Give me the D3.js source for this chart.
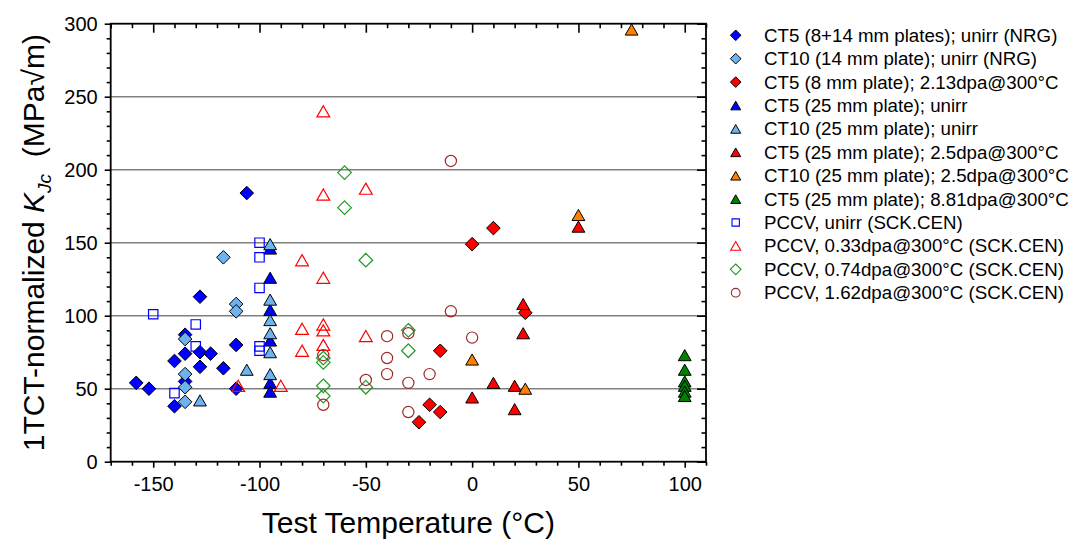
<!DOCTYPE html>
<html>
<head>
<meta charset="utf-8">
<script src="https://cdn.jsdelivr.net/npm/d3@7"></script>
<style>
    body { margin: 0; background: #fff; }
    svg { display: block; font-family: "Liberation Sans", Arial, sans-serif; }
</style>
</head>
<body>
<div id="chart"></div>
<script>
// series (temperature in °C, 1TCT-normalized KJc in MPa√m)
const seriesNames = [
    "CT5 (8+14 mm plates); unirr (NRG)",
    "CT10 (14 mm plate); unirr (NRG)",
    "CT5 (8 mm plate); 2.13dpa@300°C",
    "CT5 (25 mm plate); unirr",
    "CT10 (25 mm plate); unirr",
    "CT5 (25 mm plate); 2.5dpa@300°C",
    "CT10 (25 mm plate); 2.5dpa@300°C",
    "CT5 (25 mm plate); 8.81dpa@300°C",
    "PCCV, unirr (SCK.CEN)",
    "PCCV, 0.33dpa@300°C (SCK.CEN)",
    "PCCV, 0.74dpa@300°C (SCK.CEN)",
    "PCCV, 1.62dpa@300°C (SCK.CEN)"
];

const ct5UnirrT = [-158, -152, -140, -140, -135, -135, -135, -128, -128, -128, -123, -117, -111, -111, -106];
const ct5UnirrK = [54, 50, 38, 69, 74, 87, 55, 113, 75, 65, 74, 64, 80, 50, 184];

const ct10UnirrT = [-117, -111, -111, -135, -135, -135, -135];
const ct10UnirrK = [140, 108, 103, 84, 60, 51, 41];

const ct5Irr213T = [-25, -20, -15, -15, 0, 10, 25];
const ct5Irr213K = [27, 39, 34, 76, 149, 160, 102];

const ct5Plate25T = [-95, -95, -95, -95, -95, -95];
const ct5Plate25K = [146, 126, 104, 83, 54, 48];

const ct10Plate25T = [-95, -95, -95, -95, -95, -95, -106, -128];
const ct10Plate25K = [149, 111, 97, 88, 75, 60, 63, 42];

const ct5Irr25T = [0, 10, 20, 20, 24, 24, 50];
const ct5Irr25K = [44, 54, 52, 36, 108, 88, 161];

const ct10Irr25T = [0, 25, 50, 75];
const ct10Irr25K = [70, 50, 169, 296];

const ct5Irr881T = [100, 100, 100, 100, 100, 100];
const ct5Irr881K = [73, 63, 55, 52, 48, 45];

const pccvUnirrT = [-150, -140, -130, -130, -100, -100, -100, -100, -100];
const pccvUnirrK = [101, 47, 94, 79, 150, 140, 119, 79, 76];

const pccv033T = [-70, -70, -80, -70, -80, -70, -70, -70, -80, -110, -90, -50, -50];
const pccv033K = [240, 183, 138, 126, 91, 94, 90, 80, 76, 52, 52, 86, 187];

const pccv074T = [-60, -60, -50, -70, -70, -70, -70, -50, -30, -30];
const pccv074K = [198, 174, 138, 71, 68, 52, 45, 51, 90, 76];

const pccv162T = [-10, -70, -70, -50, -40, -40, -40, -30, -30, -30, -20, -10, 0];
const pccv162K = [206, 73, 39, 56, 86, 71, 60, 88, 54, 34, 60, 103, 85];

const xMajorTicks = [-150, -100, -50, 0, 50, 100];
const yMajorTicks = [0, 50, 100, 150, 200, 250, 300];
const gridValues = [50, 100, 150, 200, 250];

const LIGHT_BLUE = "#6db3f0";

// shape, fill, stroke for each series, same order as seriesNames
const styles = [
    { shape: "diamond", fill: "#0000ff", stroke: "#000" },
    { shape: "diamond", fill: LIGHT_BLUE, stroke: "#000" },
    { shape: "diamond", fill: "#ff0000", stroke: "#000" },
    { shape: "triangle", fill: "#0000ff", stroke: "#000" },
    { shape: "triangle", fill: LIGHT_BLUE, stroke: "#000" },
    { shape: "triangle", fill: "#ff0000", stroke: "#000" },
    { shape: "triangle", fill: "#ff8000", stroke: "#000" },
    { shape: "triangle", fill: "#008000", stroke: "#000" },
    { shape: "square", fill: "none", stroke: "#0000ff" },
    { shape: "triangle", fill: "none", stroke: "#ff0000" },
    { shape: "diamond", fill: "none", stroke: "#229a22" },
    { shape: "circle", fill: "none", stroke: "#a02828" }
];

const seriesT = [ct5UnirrT, ct10UnirrT, ct5Irr213T, ct5Plate25T, ct10Plate25T, ct5Irr25T,
    ct10Irr25T, ct5Irr881T, pccvUnirrT, pccv033T, pccv074T, pccv162T];
const seriesK = [ct5UnirrK, ct10UnirrK, ct5Irr213K, ct5Plate25K, ct10Plate25K, ct5Irr25K,
    ct10Irr25K, ct5Irr881K, pccvUnirrK, pccv033K, pccv074K, pccv162K];

function shapePath(shape, s) {
    // s = half size of the marker
    if (shape === "diamond") return `M0,${-s}L${s},0L0,${s}L${-s},0Z`;
    if (shape === "triangle") {
        const h = s * 0.87;
        return `M0,${-h}L${s},${h}L${-s},${h}Z`;
    }
    if (shape === "square") return `M${-s},${-s}H${s}V${s}H${-s}Z`;
    // circle
    return `M${s},0A${s},${s} 0 1,1 ${-s},0A${s},${s} 0 1,1 ${s},0Z`;
}

function markerSize(shape, legend) {
    const k = legend ? 0.78 : 1;
    if (shape === "diamond") return 6.8 * k;
    if (shape === "triangle") return 6.4 * k;
    if (shape === "square") return 4.7 * k;
    return 5.6 * k;
}

function draw() {
    const width = 1083, height = 543;
    const left = 110.7, right = 706, top = 23.7, bottom = 461.7;

    const svg = d3.select("#chart").append("svg")
        .attr("width", width)
        .attr("height", height);

    const x = d3.scaleLinear().domain([-170, 110]).range([left, right]);
    const y = d3.scaleLinear().domain([0, 300]).range([bottom, top]);

    const xMinor = d3.range(-170, 111, 10).filter(v => !xMajorTicks.includes(v));
    const yMinor = d3.range(0, 301, 10).filter(v => !yMajorTicks.includes(v));

    // grid lines
    svg.append("g")
        .selectAll("line")
        .data(gridValues)
        .enter().append("line")
        .attr("x1", left)
        .attr("x2", right)
        .attr("y1", d => y(d))
        .attr("y2", d => y(d))
        .attr("stroke", "#808080")
        .attr("stroke-width", 1.6);

    // points
    seriesT.forEach((ts, i) => {
        const st = styles[i];
        const pts = ts.map((t, j) => ({ t: t, k: seriesK[i][j] }));
        svg.append("g")
            .selectAll("path")
            .data(pts)
            .enter().append("path")
            .attr("transform", d => `translate(${x(d.t)},${y(d.k)})`)
            .attr("d", shapePath(st.shape, markerSize(st.shape, false)))
            .attr("fill", st.fill)
            .attr("stroke", st.stroke)
            .attr("stroke-width", st.fill === "none" ? 1.2 : 1);
    });

    const styleAxis = g => {
        g.attr("font-family", null);
        g.select(".domain").remove();
        g.selectAll("line").attr("stroke", "#000").attr("stroke-width", 1.6);
    };

    // bottom axis
    svg.append("g")
        .attr("transform", `translate(0,${bottom})`)
        .call(d3.axisBottom(x).tickValues(xMinor).tickSize(4).tickFormat(""))
        .call(styleAxis);
    svg.append("g")
        .attr("transform", `translate(0,${bottom})`)
        .call(d3.axisBottom(x).tickValues(xMajorTicks).tickSize(6).tickPadding(9).tickFormat(d => String(d)))
        .call(styleAxis)
        .selectAll("text")
        .attr("font-size", 20)
        .attr("fill", "#000");

    // top axis, ticks inward
    svg.append("g")
        .attr("transform", `translate(0,${top})`)
        .call(d3.axisTop(x).tickValues(xMinor).tickSize(-4.5).tickFormat(""))
        .call(styleAxis);
    svg.append("g")
        .attr("transform", `translate(0,${top})`)
        .call(d3.axisTop(x).tickValues(xMajorTicks).tickSize(-9).tickFormat(""))
        .call(styleAxis);

    // left axis
    svg.append("g")
        .attr("transform", `translate(${left},0)`)
        .call(d3.axisLeft(y).tickValues(yMinor).tickSize(4).tickFormat(""))
        .call(styleAxis);
    svg.append("g")
        .attr("transform", `translate(${left},0)`)
        .call(d3.axisLeft(y).tickValues(yMajorTicks).tickSize(6).tickPadding(7).tickFormat(d => String(d)))
        .call(styleAxis)
        .selectAll("text")
        .attr("font-size", 20)
        .attr("fill", "#000");

    // right axis, ticks inward
    svg.append("g")
        .attr("transform", `translate(${right},0)`)
        .call(d3.axisRight(y).tickValues(yMinor).tickSize(-4.5).tickFormat(""))
        .call(styleAxis);
    svg.append("g")
        .attr("transform", `translate(${right},0)`)
        .call(d3.axisRight(y).tickValues(yMajorTicks).tickSize(-9).tickFormat(""))
        .call(styleAxis);

    // frame
    svg.append("rect")
        .attr("x", left)
        .attr("y", top)
        .attr("width", right - left)
        .attr("height", bottom - top)
        .attr("fill", "none")
        .attr("stroke", "#000")
        .attr("stroke-width", 1.8);

    // axis titles
    svg.append("text")
        .attr("x", (left + right) / 2)
        .attr("y", 533)
        .attr("text-anchor", "middle")
        .attr("font-size", 30)
        .text("Test Temperature (°C)");

    const yTitle = svg.append("text")
        .attr("transform", `translate(44,${(top + bottom) / 2}) rotate(-90)`)
        .attr("text-anchor", "middle")
        .attr("font-size", 30);
    yTitle.append("tspan").text("1TCT-normalized ");
    yTitle.append("tspan").attr("font-style", "italic").text("K");
    yTitle.append("tspan").attr("font-style", "italic").attr("font-size", 19)
        .attr("dy", 7).text("Jc");
    yTitle.append("tspan").attr("dy", -7).text("\u00a0 (MPa√m)");

    // legend
    const legend = svg.append("g");
    seriesNames.forEach((name, i) => {
        const st = styles[i];
        const ly = 35.3 + i * 23.4;
        legend.append("path")
            .attr("transform", `translate(735.7,${ly})`)
            .attr("d", shapePath(st.shape, markerSize(st.shape, true)))
            .attr("fill", st.fill)
            .attr("stroke", st.stroke)
            .attr("stroke-width", st.fill === "none" ? 1.1 : 1);
        legend.append("text")
            .attr("x", 764)
            .attr("y", ly)
            .attr("dy", "0.35em")
            .attr("font-size", 18.7)
            .text(name);
    });
}

draw();
</script>
</body>
</html>
